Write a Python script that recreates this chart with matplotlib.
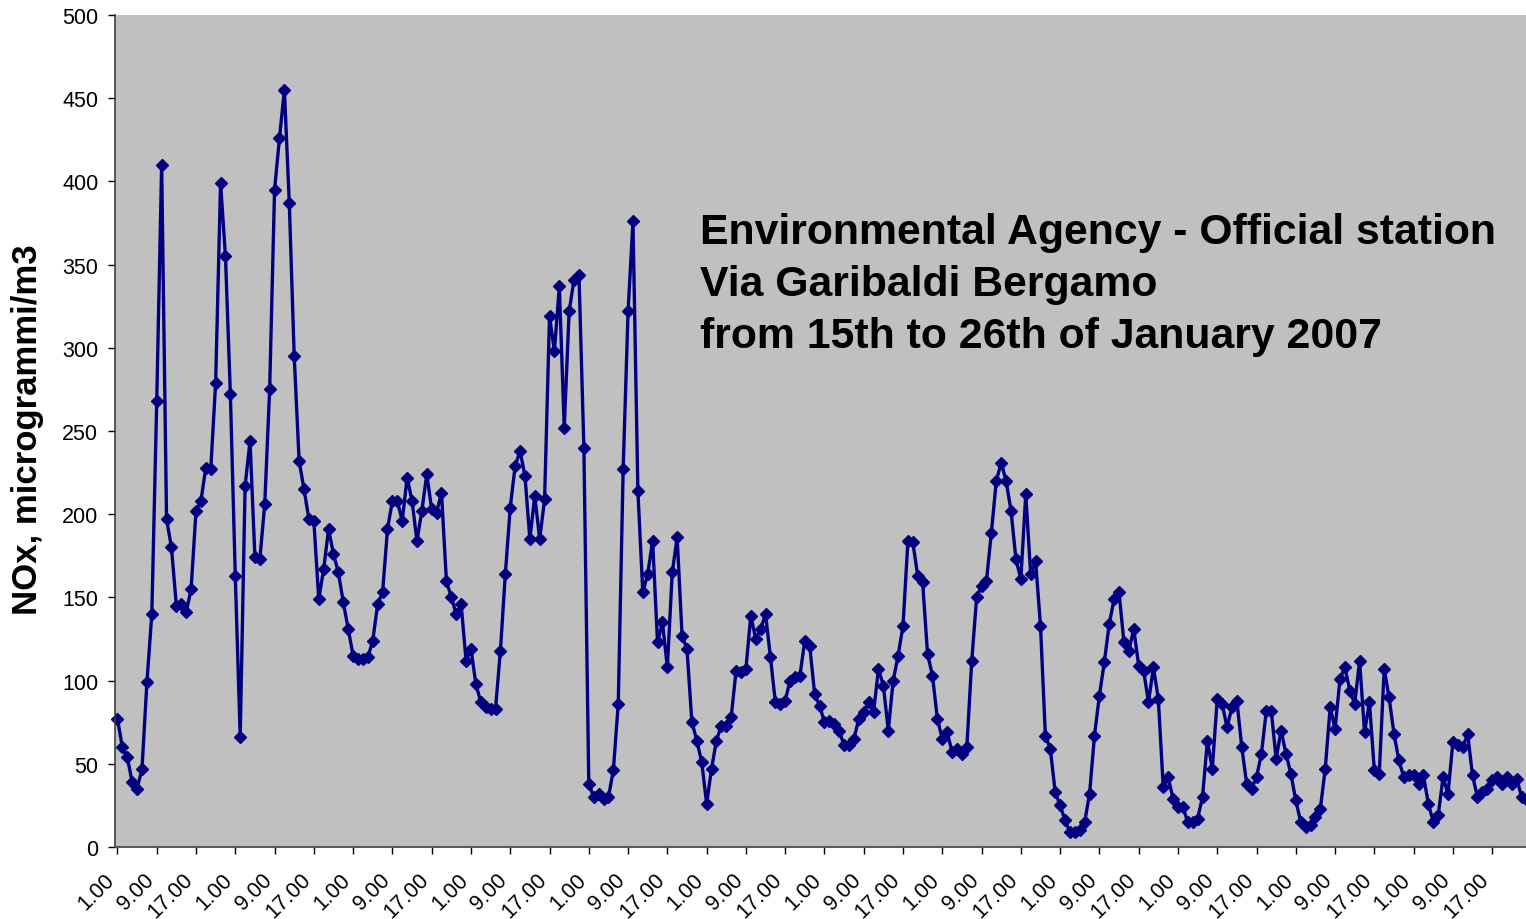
import numpy as np
import matplotlib.pyplot as plt
from matplotlib.transforms import ScaledTranslation

plt.rcParams['font.family'] = ['Liberation Sans', 'DejaVu Sans']

# NOx hourly values, 15-26 January 2007
nox = [77, 60, 54, 39, 35, 47, 99, 140, 268, 410,
       197, 180, 145, 146, 141, 155, 202, 208, 228, 227,
       279, 399, 355, 272, 163, 66, 217, 244, 174, 173,
       206, 275, 395, 426, 455, 387, 295, 232, 215, 197,
       196, 149, 167, 191, 176, 165, 147, 131, 115, 113,
       113, 114, 124, 146, 153, 191, 208, 208, 196, 222,
       208, 184, 202, 224, 203, 201, 213, 160, 150, 140,
       146, 112, 119, 98, 87, 84, 83, 83, 118, 164,
       204, 229, 238, 223, 185, 211, 185, 209, 319, 298,
       337, 252, 322, 341, 344, 240, 38, 30, 32, 29,
       30, 46, 86, 227, 322, 376, 214, 153, 164, 184,
       123, 135, 108, 165, 186, 127, 119, 75, 64, 51,
       26, 47, 64, 73, 73, 78, 106, 105, 107, 139,
       125, 131, 140, 114, 87, 86, 88, 100, 102, 103,
       124, 121, 92, 85, 75, 76, 74, 70, 61, 61,
       65, 77, 81, 87, 81, 107, 97, 70, 100, 115,
       133, 184, 183, 163, 159, 116, 103, 77, 65, 69,
       57, 59, 56, 60, 112, 150, 157, 160, 189, 220,
       231, 220, 202, 173, 161, 212, 164, 172, 133, 67,
       59, 33, 25, 16, 9, 9, 10, 15, 32, 67,
       91, 111, 134, 149, 153, 123, 118, 131, 109, 106,
       87, 108, 89, 36, 42, 29, 24, 24, 15, 15,
       17, 30, 64, 47, 89, 86, 72, 84, 88, 60,
       38, 35, 42, 56, 82, 82, 53, 70, 56, 44,
       28, 15, 12, 13, 18, 23, 47, 84, 71, 101,
       108, 94, 86, 112, 69, 87, 46, 44, 107, 90,
       68, 52, 42, 43, 43, 38, 43, 26, 15, 19,
       42, 32, 63, 61, 60, 68, 43, 30, 33, 35,
       40, 42, 38, 42, 38, 41, 30, 28]
hour_labels = ['1.00', '9.00', '17.00'] * 12
title = ("Environmental Agency - Official station\n"
         "Via Garibaldi Bergamo\n"
         "from 15th to 26th of January 2007")

W, H = 1526, 920
fig = plt.figure(figsize=(W / 100, H / 100), dpi=100)
ax = fig.add_axes([115 / W, (H - 848) / H, (1529 - 115) / W, (848 - 16) / H])
ax.set_facecolor('#C0C0C0')

x = np.arange(len(nox))
ax.plot(x, nox, color='#000080', lw=2.4, marker='D', ms=6.5,
        mfc='#000080', mec='#000080', clip_on=False)

ax.set_xlim(-0.5, len(nox) - 0.5)
ax.set_ylim(0, 500)
ax.set_yticks(np.arange(0, 501, 50))
ax.set_xticks(np.arange(0, len(nox), 8))
ax.set_xticklabels(hour_labels, rotation=45, ha='right', va='center',
                   rotation_mode='anchor')
ax.tick_params(axis='y', direction='out', length=5, width=1, pad=7,
               labelsize=15.5)
ax.tick_params(axis='x', direction='out', length=5, width=1, pad=10,
               labelsize=15.5)
shift = ScaledTranslation(-6 / 100, -8 / 100, fig.dpi_scale_trans)
for lbl in ax.get_xticklabels():
    lbl.set_transform(lbl.get_transform() + shift)
for s in ['top', 'right']:
    ax.spines[s].set_visible(False)
for s in ['left', 'bottom']:
    ax.spines[s].set_color('#404040')
    ax.spines[s].set_linewidth(1.2)

fig.text(28 / W, 1 - 430 / H, 'NOx, microgrammi/m3', rotation=90,
         ha='center', va='center', fontsize=25, fontweight='bold')
fig.text(700 / W, 1 - 213 / H, title, ha='left', va='top',
         fontsize=30.8, fontweight='bold', linespacing=1.38)

fig.savefig('out.png', dpi=100)
